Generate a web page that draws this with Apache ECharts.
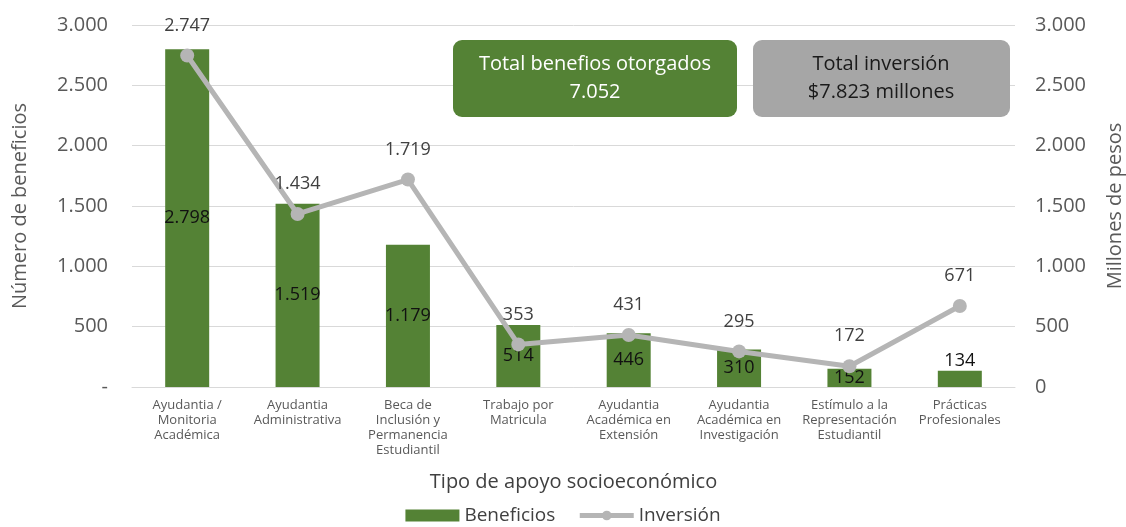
<!DOCTYPE html>
<html lang="es">
<head>
    <meta charset="UTF-8">
    <title>Apoyo socioeconómico</title>
    <script src="https://cdn.jsdelivr.net/npm/echarts@6/dist/echarts.min.js"></script>
    <style>
        html, body { margin: 0; padding: 0; background: #fff; }
        #chart { width: 1126px; height: 527px; }
    </style>
</head>
<body>
<div id="chart"></div>
<script type="text/javascript">
    // data
    const categories = [
        'Ayudantia /\nMonitoria\nAcadémica',
        'Ayudantia\nAdministrativa',
        'Beca de\nInclusión y\nPermanencia\nEstudiantil',
        'Trabajo por\nMatricula',
        'Ayudantia\nAcadémica en\nExtensión',
        'Ayudantia\nAcadémica en\nInvestigación',
        'Estímulo a la\nRepresentación\nEstudiantil',
        'Prácticas\nProfesionales'
    ];
    const beneficios = [2798, 1519, 1179, 514, 446, 310, 152, 134];
    const inversion = [2747, 1434, 1719, 353, 431, 295, 172, 671];
    const totalBeneficios = '7.052';
    const totalInversion = '$7.823 millones';

    const FONT = 'Open Sans';
    const GREEN = '#548235';
    const GRAY = '#b5b5b5';

    // thousands with a dot, like the source
    function fmt(v) {
        return String(v).replace(/\B(?=(\d{3})+(?!\d))/g, '.');
    }

    let chart = echarts.init(document.getElementById('chart'));

    let option = {
        textStyle: { fontFamily: FONT },
        animation: false,
        grid: {
            left: 132, right: 111, top: 25, bottom: 140,
            containLabel: false,
            outerBoundsMode: 'none'
        },
        legend: {
            bottom: -3,
            left: 'center',
            itemGap: 22,
            textStyle: { fontSize: 19, color: '#404040', fontFamily: FONT },
            data: [
                { name: 'Beneficios', icon: 'rect', itemStyle: { color: GREEN } },
                { name: 'Inversión', lineStyle: { width: 5, color: GRAY } }
            ],
            itemWidth: 54,
            itemHeight: 12
        },
        xAxis: {
            type: 'category',
            data: categories,
            name: 'Tipo de apoyo socioeconómico',
            nameLocation: 'middle',
            nameGap: 85,
            nameTextStyle: { fontSize: 20, color: '#404040' },
            axisTick: { show: false },
            axisLine: { lineStyle: { color: '#d9d9d9', width: 1 } },
            axisLabel: {
                fontSize: 13,
                color: '#595959',
                lineHeight: 15,
                margin: 11,
                interval: 0
            }
        },
        yAxis: [
            {
                type: 'value',
                min: 0,
                max: 3000,
                interval: 500,
                name: 'Número de beneficios',
                nameLocation: 'middle',
                nameGap: 102,
                nameTextStyle: { fontSize: 20, color: '#595959' },
                axisLabel: {
                    fontSize: 20,
                    color: '#595959',
                    margin: 24,
                    formatter: v => v === 0 ? '-' : fmt(v)
                },
                splitLine: { lineStyle: { color: '#d9d9d9', width: 1 } }
            },
            {
                type: 'value',
                min: 0,
                max: 3000,
                interval: 500,
                name: 'Millones de pesos',
                nameLocation: 'middle',
                nameGap: 90,
                nameTextStyle: { fontSize: 20, color: '#595959' },
                axisLabel: {
                    fontSize: 20,
                    color: '#595959',
                    margin: 20,
                    formatter: v => fmt(v)
                },
                splitLine: { show: false }
            }
        ],
        series: [
            {
                name: 'Beneficios',
                type: 'bar',
                data: beneficios.map((v, i) => i === beneficios.length - 1
                    ? { value: v, label: { position: 'top', distance: 1 } }
                    : v),
                barWidth: 44,
                itemStyle: { color: GREEN },
                label: {
                    show: true,
                    position: 'inside',
                    fontSize: 18,
                    color: '#111',
                    formatter: p => fmt(p.value)
                }
            },
            {
                name: 'Inversión',
                type: 'line',
                yAxisIndex: 1,
                data: inversion,
                symbol: 'circle',
                symbolSize: 14,
                lineStyle: { color: GRAY, width: 5 },
                itemStyle: { color: GRAY },
                label: {
                    show: true,
                    position: 'top',
                    distance: 14,
                    fontSize: 18,
                    color: '#404040',
                    formatter: p => fmt(p.value)
                },
                z: 5
            }
        ],
        graphic: [
            {
                type: 'rect',
                left: 453,
                top: 40,
                z: 100,
                shape: { width: 284, height: 77, r: 9 },
                style: { fill: GREEN }
            },
            {
                type: 'text',
                x: 595,
                y: 78,
                z: 101,
                style: {
                    text: 'Total benefios otorgados\n' + totalBeneficios,
                    fill: '#fff',
                    font: '20px ' + FONT,
                    lineHeight: 28,
                    align: 'center',
                    verticalAlign: 'middle'
                }
            },
            {
                type: 'rect',
                left: 753,
                top: 40,
                z: 100,
                shape: { width: 257, height: 77, r: 9 },
                style: { fill: '#a6a6a6' }
            },
            {
                type: 'text',
                x: 881,
                y: 78,
                z: 101,
                style: {
                    text: 'Total inversión\n' + totalInversion,
                    fill: '#1a1a1a',
                    font: '20px ' + FONT,
                    lineHeight: 28,
                    align: 'center',
                    verticalAlign: 'middle'
                }
            }
        ]
    };

    chart.setOption(option);
</script>
</body>
</html>
